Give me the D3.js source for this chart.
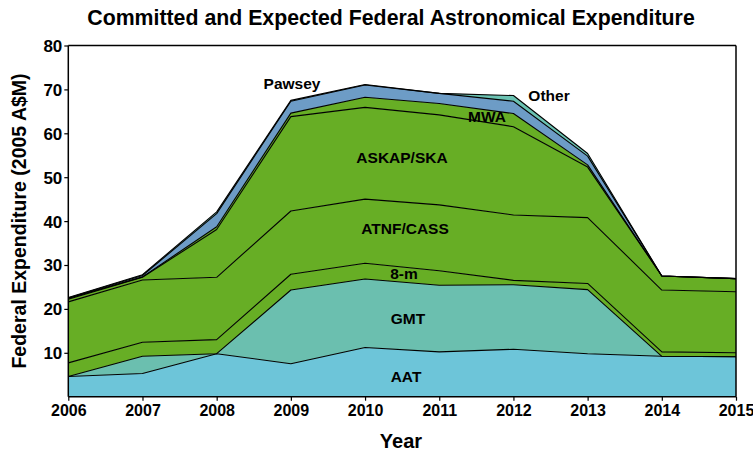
<!DOCTYPE html>
<html><head><meta charset="utf-8">
<script src="https://cdn.jsdelivr.net/npm/d3@7"></script>
<style>body{margin:0;background:#fff}svg{display:block}text{font-family:"Liberation Sans",Arial,Helvetica,sans-serif;font-weight:bold;fill:#000}</style>
</head><body><svg id="c" width="753" height="453"></svg>
<script>
const years = [2006,2007,2008,2009,2010,2011,2012,2013,2014,2015];
const seriesNames = ["AAT","GMT","8-m","ATNF/CASS","ASKAP/SKA","MWA","Pawsey","Other"];
const AAT   = [4.6, 5.3, 9.8, 7.5, 11.2, 10.2, 10.8, 9.8, 9.2, 9.1];
const GMT   = [0.0, 3.9, 0.0, 16.8, 15.6, 15.2, 14.7, 14.6, 0.0, 0.0];
const EIGHT = [3.1, 3.2, 3.2, 3.6, 3.6, 3.3, 1.0, 1.4, 1.0, 0.9];
const ATNF  = [13.9, 14.2, 14.2, 14.4, 14.6, 15.0, 14.9, 15.0, 14.1, 13.9];
const ASKAP = [0.6, 0.6, 10.9, 21.5, 20.9, 20.5, 20.1, 11.5, 3.2, 3.0];
const MWA   = [0.2, 0.1, 0.6, 0.8, 2.3, 2.6, 3.0, 0.5, 0.0, 0.0];
const PAWSEY= [0.1, 0.3, 3.0, 2.7, 2.8, 2.3, 2.8, 2.0, 0.0, 0.0];
const OTHER = [0.1, 0.2, 0.4, 0.2, 0.1, 0.0, 1.3, 0.6, 0.0, 0.0];
const yTicks = [10,20,30,40,50,60,70,80];
const colors = ["#6dc5d9","#6bbfaf","#67ae25","#67ae25","#67ae25","#67ae25","#6d9cc6","#6bc2b2"];
const title = "Committed and Expected Federal Astronomical Expenditure";
const xTitle = "Year", yTitle = "Federal Expenditure (2005 A$M)";

const valuesList = [AAT,GMT,EIGHT,ATNF,ASKAP,MWA,PAWSEY,OTHER];
const rows = years.map((y,i)=>{const r={year:y}; seriesNames.forEach((n,k)=>r[n]=valuesList[k][i]); return r;});

const svg = d3.select("#c");
const L=68.3, R=736, T=45.5, B=396.7;
const x = d3.scaleLinear().domain([2006,2015]).range([L,R]);
const y = d3.scaleLinear().domain([0,80]).range([B,T]);

const stacked = d3.stack().keys(seriesNames)(rows);
const area = d3.area().x(d=>x(d.data.year)).y0(d=>y(d[0])).y1(d=>y(d[1]));
const line = d3.line().x(d=>x(d.data.year)).y(d=>y(d[1]));

svg.append("g").selectAll("path").data(stacked).join("path")
  .attr("d",area).attr("fill",(d,i)=>colors[i]).attr("stroke","none");
svg.append("g").selectAll("path").data(stacked).join("path")
  .attr("d",line).attr("fill","none").attr("stroke","#000").attr("stroke-width",1.1).attr("stroke-linejoin","round");

// frame
svg.append("line").attr("x1",L).attr("x2",R).attr("y1",T).attr("y2",T).attr("stroke","#000").attr("stroke-width",1.5);
svg.append("line").attr("x1",R).attr("x2",R).attr("y1",T).attr("y2",B).attr("stroke","#000").attr("stroke-width",1.5);

const yAxis = svg.append("g").attr("transform",`translate(${L},0)`)
  .call(d3.axisLeft(y).tickValues(yTicks).tickSize(4).tickPadding(2).tickFormat(d3.format("d")));
yAxis.select(".domain").attr("d",`M0,${T}V${B}`).attr("stroke-width",1.5);
yAxis.selectAll("text").style("font-size","17px").style("font-family",'"Liberation Sans",Arial,sans-serif').style("font-weight","bold").attr("dy","0.35em");
yAxis.selectAll(".tick line").attr("stroke-width",1.2);

const xAxis = svg.append("g").attr("transform",`translate(0,${B})`)
  .call(d3.axisBottom(x).tickValues(years).tickSize(4).tickPadding(4).tickFormat(d3.format("d")));
xAxis.select(".domain").attr("d",`M${L},0H${R}`).attr("stroke-width",1.5);
xAxis.selectAll("text").style("font-size","16px").style("font-family",'"Liberation Sans",Arial,sans-serif').style("font-weight","bold");
xAxis.selectAll(".tick line").attr("stroke-width",1.2);

svg.append("text").attr("x",391).attr("y",25).attr("text-anchor","middle").style("font-size","21.3px").text(title);
svg.append("text").attr("x",401).attr("y",448).attr("text-anchor","middle").style("font-size","20px").text(xTitle);
svg.append("text").attr("transform","translate(26,221) rotate(-90)").attr("text-anchor","middle").style("font-size","19.5px").text(yTitle);

const labels = [
  {t:"Pawsey", x:292, y:89},
  {t:"Other", x:549, y:101},
  {t:"MWA", x:487, y:122},
  {t:"ASKAP/SKA", x:402, y:163},
  {t:"ATNF/CASS", x:405, y:234},
  {t:"8-m", x:404, y:279},
  {t:"GMT", x:408, y:324},
  {t:"AAT", x:406, y:382}
];
svg.append("g").selectAll("text").data(labels).join("text")
  .attr("x",d=>d.x).attr("y",d=>d.y).attr("text-anchor","middle").style("font-size","15.5px").text(d=>d.t);
</script></body></html>
